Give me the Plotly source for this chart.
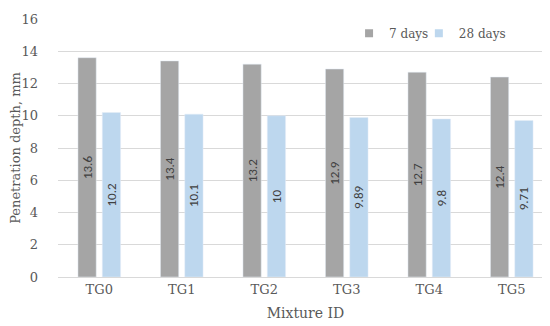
import plotly.graph_objects as go

categories = ["TG0", "TG1", "TG2", "TG3", "TG4", "TG5"]
days7 = [13.6, 13.4, 13.2, 12.9, 12.7, 12.4]
days28 = [10.2, 10.1, 10, 9.89, 9.8, 9.71]
series_names = ["7 days", "28 days"]
colors = ["#a5a5a5", "#bdd7ee"]

serif = "Palatino Linotype, Book Antiqua, DejaVu Serif, serif"
sans = "Calibri, Liberation Sans, Open Sans, sans-serif"

fig = go.Figure()
for vals, name, col in zip([days7, days28], series_names, colors):
    fig.add_trace(go.Bar(x=categories, y=vals, name=name, marker_color=col, showlegend=False,
                         text=[str(v) for v in vals], textposition="inside", textangle=-90,
                         insidetextanchor="middle", constraintext="none",
                         textfont=dict(family=sans, size=13, color="#404040")))
# legend entries with small square keys (one legend per entry for tight spacing)
for name, col, lg in zip(series_names, colors, ["legend", "legend2"]):
    fig.add_trace(go.Scatter(x=[None], y=[None], mode="markers", name=name, legend=lg,
                             marker=dict(symbol="square", size=8, color=col)))

legend_common = dict(orientation="h", y=0.945, xanchor="left", yanchor="middle",
                     bgcolor="rgba(255,255,255,0)", font=dict(family=serif, size=12, color="#595959"),
                     itemwidth=30)

fig.update_layout(
    width=550, height=326,
    margin=dict(l=50, r=5, t=11, b=57, autoexpand=False),
    paper_bgcolor="white", plot_bgcolor="white",
    barmode="group", bargap=0.41, bargroupgap=0.25,
    uniformtext=dict(mode=False),
    font=dict(family=serif, size=13, color="#595959"),
    legend=dict(x=0.588, **legend_common),
    legend2=dict(x=0.729, **legend_common),
    xaxis=dict(title=dict(text="Mixture ID", font=dict(family=serif, size=14, color="#595959"), standoff=12),
               showline=True, linecolor="#d9d9d9", ticks="", automargin=False,
               tickfont=dict(family=serif, size=13, color="#595959")),
    yaxis=dict(title=dict(text="Penetration depth, mm", font=dict(family=serif, size=13, color="#595959"), standoff=16),
               range=[0, 16], dtick=2, showgrid=True, gridcolor="#d9d9d9", zeroline=False, automargin=False,
               ticks="", ticklabelstandoff=19, tickfont=dict(family=serif, size=13, color="#595959")),
)
fig.write_html("out.html")
